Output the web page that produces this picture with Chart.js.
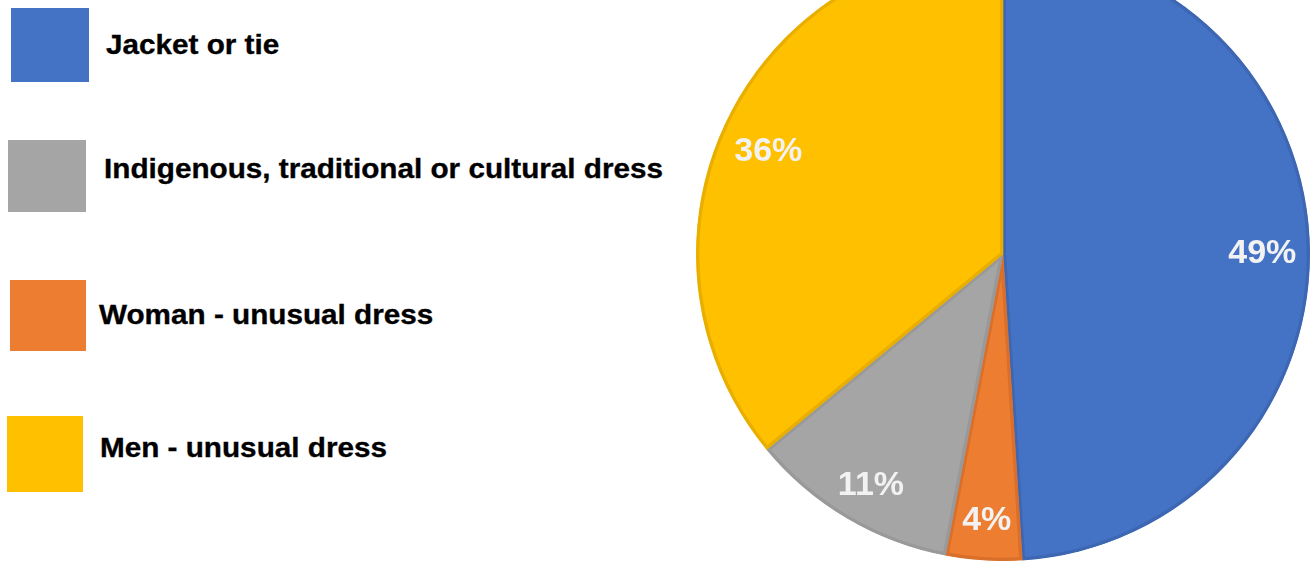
<!DOCTYPE html>
<html>
<head>
<meta charset="utf-8">
<script src="https://cdn.jsdelivr.net/npm/chart.js@4/dist/chart.umd.min.js"></script>
<style>
  html, body { margin: 0; padding: 0; background: #ffffff; width: 1313px; height: 561px; overflow: hidden; }
  #wrap { position: relative; width: 1313px; height: 561px; overflow: hidden; }
  #pieBox { position: absolute; left: 696px; top: -53px; width: 614px; height: 614px; }
  .sw { position: absolute; }
  .lbl { position: absolute; font-family: "Liberation Sans", Arial, sans-serif; font-weight: bold; font-size: 28px; line-height: 28px; color: #000; white-space: nowrap; transform: scaleX(1.06); transform-origin: 0 0; -webkit-text-stroke: 0.35px #000; }
</style>
</head>
<body>
<div id="wrap">
  <div id="legend"></div>
  <div id="pieBox"><canvas id="c" width="614" height="614"></canvas></div>
</div>
<script>
// ---- data ----
const categories = ["Jacket or tie", "Woman - unusual dress", "Indigenous, traditional or cultural dress", "Men - unusual dress"];
const shares = [49, 4, 11, 36];
const fillColors = ["#4472C4", "#ED7D31", "#A5A5A5", "#FFC000"];
const edgeColors = ["#3D67B3", "#D96F2A", "#999999", "#E9AF00"];
const legendOrder = [0, 2, 1, 3];

// ---- legend (HTML text) ----
const legendSwatches = [
  {x: 11, y: 8, w: 78, h: 74},
  {x: 8, y: 140, w: 78, h: 72},
  {x: 10, y: 280, w: 76, h: 71},
  {x: 7, y: 416, w: 76, h: 76}
];
const legendText = [
  {x: 106, base: 54},
  {x: 104, base: 178},
  {x: 99, base: 324},
  {x: 100, base: 457}
];
const legendEl = document.getElementById('legend');
legendOrder.forEach((idx, i) => {
  const s = legendSwatches[i];
  const sw = document.createElement('div');
  sw.className = 'sw';
  sw.style.left = s.x + 'px'; sw.style.top = s.y + 'px';
  sw.style.width = s.w + 'px'; sw.style.height = s.h + 'px';
  sw.style.background = fillColors[idx];
  legendEl.appendChild(sw);
  const t = legendText[i];
  const lb = document.createElement('div');
  lb.className = 'lbl';
  lb.textContent = categories[idx];
  lb.style.left = t.x + 'px';
  lb.style.top = (t.base - 23) + 'px';
  legendEl.appendChild(lb);
});

// ---- percentage labels drawn from arc geometry ----
const pctLabels = {
  id: 'pctLabels',
  afterDatasetsDraw(chart) {
    const ctx = chart.ctx;
    const meta = chart.getDatasetMeta(0);
    const total = shares.reduce((a, b) => a + b, 0);
    ctx.save();
    ctx.fillStyle = '#F2F2F2';
    ctx.font = 'bold 34px "Liberation Sans", Arial, sans-serif';
    ctx.textAlign = 'center';
    ctx.textBaseline = 'middle';
    meta.data.forEach((arc, i) => {
      const p = arc.getProps(['x', 'y', 'startAngle', 'endAngle', 'outerRadius'], true);
      const mid = (p.startAngle + p.endAngle) / 2;
      const r = p.outerRadius * 0.845;
      const x = p.x + Math.cos(mid) * r;
      const y = p.y + Math.sin(mid) * r + 8;
      ctx.fillText(Math.round(shares[i] / total * 100) + '%', x, y);
    });
    ctx.restore();
  }
};

new Chart(document.getElementById('c'), {
  type: 'pie',
  data: {
    labels: categories,
    datasets: [{
      data: shares,
      backgroundColor: fillColors,
      borderColor: edgeColors,
      borderWidth: 3,
      borderAlign: 'inner',
      hoverBorderWidth: 3
    }]
  },
  options: {
    responsive: false,
    animation: false,
    devicePixelRatio: 1,
    layout: { padding: 0 },
    events: [],
    plugins: {
      legend: { display: false },
      tooltip: { enabled: false },
      title: { display: false }
    }
  },
  plugins: [pctLabels]
});
</script>
</body>
</html>
